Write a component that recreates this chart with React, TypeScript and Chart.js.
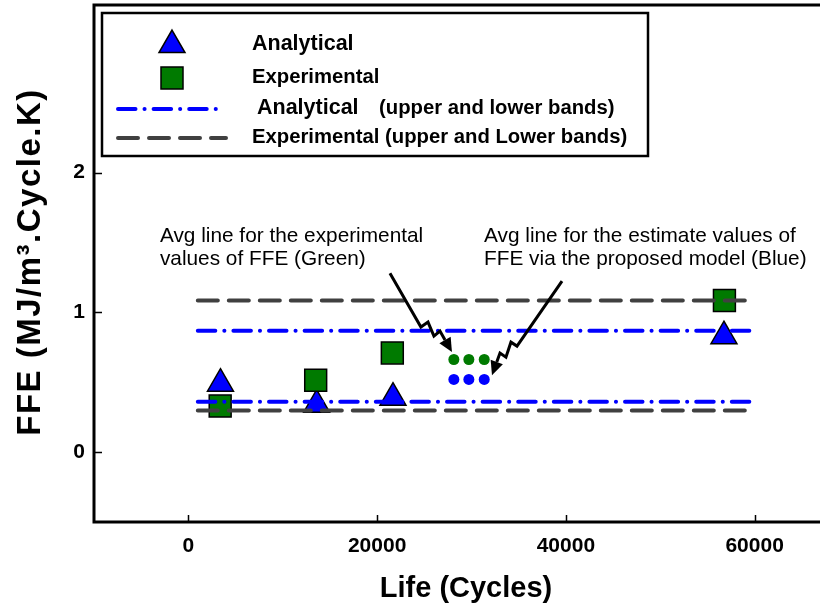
import React, { useEffect, useRef } from "react";
import { Chart, registerables } from "chart.js";

Chart.register(...registerables);

const FONT = '"Liberation Sans", Arial, Helvetica, sans-serif';

// ---- data ----
const analyticalX = [3400, 13590, 21680, 56750];
const analyticalY = [0.49, 0.34, 0.39, 0.83];
const experimentalX = [3370, 13490, 21610, 56800];
const experimentalY = [0.33, 0.515, 0.71, 1.085];
const bandX = [1000, 60000];
const analyticalBands = [0.868, 0.36];
const experimentalBands = [1.085, 0.298];
const avgDotX = [28130, 29720, 31350];
const avgExperimental = 0.663;
const avgAnalytical = 0.52;
const xTicks = [0, 20000, 40000, 60000];
const yTicks = [0, 1, 2];
const xTitle = "Life (Cycles)";
const yTitle = "FFE (MJ/m³.Cycle.K)";

// annotation arrows (data coordinates)
const leftArrowX = [21360, 24640, 25390, 26020, 26660, 27930];
const leftArrowY = [1.281, 0.895, 0.931, 0.83, 0.866, 0.716];
const rightArrowX = [39590, 34820, 34180, 33650, 33020, 32170];
const rightArrowY = [1.224, 0.759, 0.787, 0.68, 0.709, 0.551];
const leftNote = ["Avg line for the experimental", "values of FFE (Green)"];
const rightNote = ["Avg line for the estimate values of", "FFE via the proposed model (Blue)"];
const leftNoteAt = [-3010, 1.546];
const rightNoteAt = [31330, 1.546];

const BLUE = "#0000ff";
const GREEN = "#007a00";
const GRAY = "#404040";
const BLUE_DASH = [17.5, 9, 0.1, 9];
const GRAY_DASH = [20, 11];

const pts = (xs: number[], ys: number[]) => xs.map((x, i) => ({ x, y: ys[i] }));

export default function App() {
  const ref = useRef<HTMLCanvasElement>(null);

  useEffect(() => {
    const canvas = ref.current!;

    const overlay = {
      id: "overlay",
      afterDraw(chart: any) {
        const ctx = chart.ctx as CanvasRenderingContext2D;
        const ca = chart.chartArea;
        const xs = chart.scales.x;
        const ys = chart.scales.y;
        ctx.save();
        // frame
        ctx.strokeStyle = "#000";
        ctx.lineWidth = 3;
        ctx.strokeRect(ca.left, ca.top, ca.right - ca.left, ca.bottom - ca.top);
        // inward ticks
        ctx.lineWidth = 1.5;
        ctx.beginPath();
        for (const v of yTicks) {
          const py = Math.round(ys.getPixelForValue(v)) + 0.5;
          ctx.moveTo(ca.left, py);
          ctx.lineTo(ca.left + 8, py);
        }
        for (const v of xTicks) {
          const px = Math.round(xs.getPixelForValue(v)) + 0.5;
          ctx.moveTo(px, ca.bottom);
          ctx.lineTo(px, ca.bottom - 7);
        }
        ctx.stroke();

        // axis titles
        ctx.fillStyle = "#000";
        ctx.textAlign = "center";
        ctx.textBaseline = "middle";
        ctx.font = `bold 29px ${FONT}`;
        ctx.fillText(xTitle, 466, 589);
        ctx.save();
        ctx.translate(31, 262);
        ctx.rotate(-Math.PI / 2);
        ctx.font = `bold 33px ${FONT}`;
        (ctx as any).letterSpacing = "1.5px";
        ctx.fillText(yTitle, 0, 0);
        ctx.restore();

        // notes
        ctx.fillStyle = "#000";
        ctx.font = `20.8px ${FONT}`;
        ctx.textAlign = "left";
        ctx.textBaseline = "middle";
        const drawNote = (lines: string[], at: number[]) => {
          const x = xs.getPixelForValue(at[0]);
          const y = ys.getPixelForValue(at[1]);
          lines.forEach((t, i) => ctx.fillText(t, x, y + i * 23));
        };
        drawNote(leftNote, leftNoteAt);
        drawNote(rightNote, rightNoteAt);

        // arrows
        const drawArrow = (ax: number[], ay: number[]) => {
          const p = ax.map((x, i) => [xs.getPixelForValue(x), ys.getPixelForValue(ay[i])]);
          const n = p.length;
          const [tx, ty] = p[n - 1];
          const [sx, sy] = p[n - 2];
          const ang = Math.atan2(ty - sy, tx - sx);
          const L = 14, W = 6.5;
          const bx = tx - L * Math.cos(ang), by = ty - L * Math.sin(ang);
          ctx.strokeStyle = "#000";
          ctx.lineWidth = 3;
          ctx.lineJoin = "miter";
          ctx.beginPath();
          ctx.moveTo(p[0][0], p[0][1]);
          for (let i = 1; i < n - 1; i++) ctx.lineTo(p[i][0], p[i][1]);
          ctx.lineTo(bx, by);
          ctx.stroke();
          ctx.fillStyle = "#000";
          ctx.beginPath();
          ctx.moveTo(tx, ty);
          ctx.lineTo(bx + W * Math.sin(ang), by - W * Math.cos(ang));
          ctx.lineTo(bx - W * Math.sin(ang), by + W * Math.cos(ang));
          ctx.closePath();
          ctx.fill();
        };
        drawArrow(leftArrowX, leftArrowY);
        drawArrow(rightArrowX, rightArrowY);

        // legend
        const lx = 102, ly = 13, lw = 546, lh = 143;
        ctx.fillStyle = "#fff";
        ctx.fillRect(lx, ly, lw, lh);
        ctx.strokeStyle = "#000";
        ctx.lineWidth = 2.5;
        ctx.strokeRect(lx, ly, lw, lh);
        const ds = chart.data.datasets;
        const symX = 172;
        const tri = ds.find((d: any) => d.id === "ana");
        const sq = ds.find((d: any) => d.id === "exp");
        const r = 15;
        let cy = 45;
        ctx.fillStyle = tri.backgroundColor;
        ctx.strokeStyle = "#000";
        ctx.lineWidth = 1.5;
        ctx.beginPath();
        ctx.moveTo(symX, cy - r);
        ctx.lineTo(symX + r * Math.sin((2 * Math.PI) / 3), cy + r / 2);
        ctx.lineTo(symX - r * Math.sin((2 * Math.PI) / 3), cy + r / 2);
        ctx.closePath();
        ctx.fill();
        ctx.stroke();
        ctx.fillStyle = "#000";
        ctx.font = `bold 21.5px ${FONT}`;
        ctx.fillText(tri.label, 252, 44);
        cy = 78;
        ctx.fillStyle = sq.backgroundColor;
        ctx.fillRect(symX - 11, cy - 11, 22, 22);
        ctx.strokeRect(symX - 11, cy - 11, 22, 22);
        ctx.fillStyle = "#000";
        ctx.font = `bold 20.3px ${FONT}`;
        ctx.fillText(sq.label, 252, 77);
        ctx.lineWidth = 4;
        ctx.lineCap = "round";
        ctx.strokeStyle = BLUE;
        ctx.setLineDash(BLUE_DASH);
        ctx.beginPath();
        ctx.moveTo(118, 109);
        ctx.lineTo(218, 109);
        ctx.stroke();
        ctx.strokeStyle = GRAY;
        ctx.setLineDash(GRAY_DASH);
        ctx.beginPath();
        ctx.moveTo(118, 138);
        ctx.lineTo(226, 138);
        ctx.stroke();
        ctx.setLineDash([]);
        ctx.fillStyle = "#000";
        ctx.font = `bold 21.5px ${FONT}`;
        ctx.fillText("Analytical", 257, 108);
        ctx.font = `bold 20.3px ${FONT}`;
        ctx.fillText("(upper and lower bands)", 379, 108);
        ctx.fillText("Experimental (upper and Lower bands)", 252, 137);
        ctx.restore();
      },
    };

    const bandDs = (id: string, y: number, color: string, dash: number[]) => ({
      id,
      type: "line" as const,
      label: id,
      data: pts(bandX, [y, y]),
      borderColor: color,
      borderWidth: 4,
      borderDash: dash,
      borderCapStyle: "round" as const,
      pointRadius: 0,
      fill: false,
      showLine: true,
    });

    const noPad = (s: any) => {
      s.paddingTop = 0;
      s.paddingBottom = 0;
      s.paddingLeft = 0;
      s.paddingRight = 0;
    };

    const chart = new Chart(canvas, {
      type: "scatter",
      data: {
        datasets: [
          bandDs("expUp", experimentalBands[0], GRAY, GRAY_DASH),
          bandDs("expLo", experimentalBands[1], GRAY, GRAY_DASH),
          bandDs("anaUp", analyticalBands[0], BLUE, BLUE_DASH),
          bandDs("anaLo", analyticalBands[1], BLUE, BLUE_DASH),
          {
            id: "avgExp",
            label: "avgExp",
            data: pts(avgDotX, avgDotX.map(() => avgExperimental)),
            pointRadius: 5.5,
            pointBorderWidth: 0,
            backgroundColor: GREEN,
            borderColor: GREEN,
          },
          {
            id: "avgAna",
            label: "avgAna",
            data: pts(avgDotX, avgDotX.map(() => avgAnalytical)),
            pointRadius: 5.5,
            pointBorderWidth: 0,
            backgroundColor: BLUE,
            borderColor: BLUE,
          },
          {
            id: "exp",
            label: "Experimental",
            data: pts(experimentalX, experimentalY),
            pointStyle: "rect",
            pointRadius: 15.5,
            pointBorderWidth: 1.5,
            backgroundColor: GREEN,
            borderColor: "#000",
          },
          {
            id: "ana",
            label: "Analytical",
            data: pts(analyticalX, analyticalY),
            pointStyle: "triangle",
            pointRadius: 15,
            pointBorderWidth: 1.5,
            backgroundColor: BLUE,
            borderColor: "#000",
          },
        ] as any,
      },
      options: {
        responsive: false,
        animation: false,
        devicePixelRatio: 1,
        layout: { autoPadding: false, padding: { top: 5, left: 0, right: 0, bottom: 0 } },
        plugins: { legend: { display: false }, tooltip: { enabled: false } },
        scales: {
          x: {
            type: "linear",
            min: -10000,
            max: 70000,
            grid: { display: false, drawTicks: false },
            border: { display: false },
            afterBuildTicks: (s: any) => {
              s.ticks = xTicks.map((v) => ({ value: v }));
            },
            afterFit: (s: any) => {
              s.height = 87;
              noPad(s);
            },
            ticks: {
              color: "#000",
              padding: 12,
              maxRotation: 0,
              font: { family: FONT, size: 21, weight: "bold" },
              callback: (v: any) => String(v),
            },
            title: { display: false, text: xTitle },
          },
          y: {
            type: "linear",
            min: -0.5,
            max: 3.2,
            grid: { display: false, drawTicks: false },
            border: { display: false },
            afterBuildTicks: (s: any) => {
              s.ticks = yTicks.map((v) => ({ value: v }));
            },
            afterFit: (s: any) => {
              s.width = 94;
              noPad(s);
            },
            ticks: {
              color: "#000",
              padding: 9,
              font: { family: FONT, size: 21, weight: "bold" },
              callback: (v: any) => String(v),
            },
            title: { display: false, text: yTitle },
          },
        },
      },
      plugins: [overlay],
    });
    return () => chart.destroy();
  }, []);

  return (
    <div
      style={{
        position: "fixed",
        left: 0,
        top: 0,
        width: 820,
        height: 609,
        overflow: "hidden",
        background: "#fff",
      }}
    >
      <canvas ref={ref} width={849} height={609} style={{ display: "block" }} />
    </div>
  );
}
